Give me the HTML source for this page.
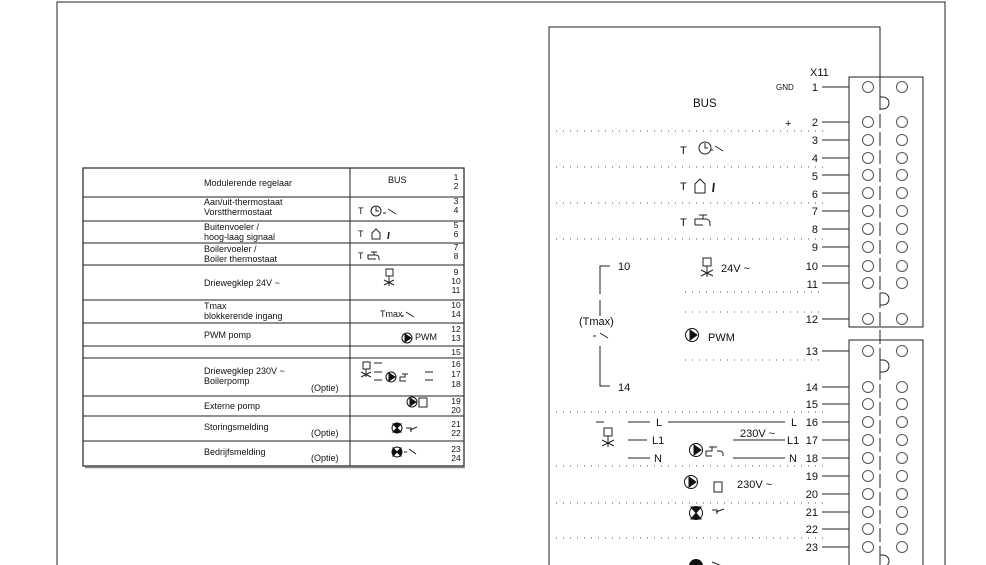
<!DOCTYPE html>
<html><head><meta charset="utf-8"><style>
html,body{margin:0;padding:0;background:#fff;}
svg{display:block;font-family:"Liberation Sans",Arial,sans-serif;}
text{fill:#111;}
</style></head><body>
<svg width="986" height="565" viewBox="0 0 986 565" xmlns="http://www.w3.org/2000/svg">
<g stroke="#222" fill="none" stroke-width="1">
<polyline points="57,565 57,2 945,2 945,565"/>
<polyline points="549,565 549,27 880,27 880,96"/>
<rect x="83" y="168" width="381" height="298" stroke-width="1.2"/>
<line x1="85" y1="467.5" x2="465" y2="467.5" stroke="#888" stroke-width="1.5"/>
<line x1="350" y1="168" x2="350" y2="466"/>
<line x1="83" y1="197" x2="464" y2="197"/>
<line x1="83" y1="221" x2="464" y2="221"/>
<line x1="83" y1="243" x2="464" y2="243"/>
<line x1="83" y1="265" x2="464" y2="265"/>
<line x1="83" y1="300" x2="464" y2="300"/>
<line x1="83" y1="323" x2="464" y2="323"/>
<line x1="83" y1="346" x2="464" y2="346"/>
<line x1="83" y1="358" x2="464" y2="358"/>
<line x1="83" y1="396" x2="464" y2="396"/>
<line x1="83" y1="416" x2="464" y2="416"/>
<line x1="83" y1="441" x2="464" y2="441"/>
<rect x="849" y="77" width="74" height="250"/>
<rect x="849" y="340" width="74" height="230"/>
<line x1="880" y1="96" x2="880" y2="565" stroke-dasharray="14,4"/>
</g>
<g font-size="9">
<text x="204" y="186">Modulerende regelaar</text>
<text x="204" y="205">Aan/uit-thermostaat</text><text x="204" y="215">Vorstthermostaat</text>
<text x="204" y="230">Buitenvoeler /</text><text x="204" y="240">hoog-laag signaal</text>
<text x="204" y="252">Boilervoeler /</text><text x="204" y="262">Boiler thermostaat</text>
<text x="204" y="286">Driewegklep 24V ~</text>
<text x="204" y="309">Tmax</text><text x="204" y="319">blokkerende ingang</text>
<text x="204" y="338">PWM pomp</text>
<text x="204" y="374">Driewegklep 230V ~</text><text x="204" y="384">Boilerpomp</text>
<text x="311" y="391">(Optie)</text>
<text x="204" y="409">Externe pomp</text>
<text x="204" y="430">Storingsmelding</text><text x="311" y="436">(Optie)</text>
<text x="204" y="455">Bedrijfsmelding</text><text x="311" y="461">(Optie)</text>
<text x="388" y="183">BUS</text>
<text x="358" y="214">T</text><text x="358" y="237">T</text><text x="358" y="259">T</text>
<text x="380" y="317">Tmax</text>
<text x="415" y="340">PWM</text>
</g>
<g font-size="8.5" text-anchor="middle">
<text x="456" y="180">1</text><text x="456" y="189">2</text>
<text x="456" y="204">3</text><text x="456" y="213">4</text>
<text x="456" y="228">5</text><text x="456" y="237">6</text>
<text x="456" y="250">7</text><text x="456" y="259">8</text>
<text x="456" y="275">9</text><text x="456" y="284">10</text><text x="456" y="293">11</text>
<text x="456" y="308">10</text><text x="456" y="317">14</text>
<text x="456" y="332">12</text><text x="456" y="341">13</text>
<text x="456" y="355">15</text>
<text x="456" y="367">16</text><text x="456" y="377">17</text><text x="456" y="387">18</text>
<text x="456" y="404">19</text><text x="456" y="413">20</text>
<text x="456" y="427">21</text><text x="456" y="436">22</text>
<text x="456" y="452">23</text><text x="456" y="461">24</text>
</g>
<g stroke="#222" fill="none" stroke-width="1">
<circle cx="376" cy="211" r="5"/><path d="M376 207v4h3M383 213h3M388 209l8 5"/>
<path d="M372 239v-6l4-4 4 4v6z"/><line x1="389" y1="232" x2="388" y2="239" stroke-width="1.5"/>
<path d="M368 259v-4h6v-3M371 252h6M374 255h2a3 3 0 0 1 3 3v2M368 259h8"/>
<rect x="386" y="269" width="7" height="7"/><path d="M389 276v10M384 280l10 5M384 285l10-5"/>
<path d="M401 316h3M406 312l8 5"/>
<rect x="363" y="362" width="7" height="7"/><path d="M366 369v8M361 372l10 5M361 377l10-5"/>
<path d="M374 363h8M374 372h8M374 380h8M425 372h8M425 380h8"/>
<path d="M406 381h-6v-4h5v-3M402 374h6"/>
<path d="M419 398h8v9h-8z"/>
<path d="M406 428h5v4M410 430l7-3M404 452h3M409 449l7 5"/>
</g>
<g fill="#111" stroke="#111">
<circle cx="407" cy="338" r="5" fill="none"/><path d="M405 334l6 4-6 4z"/>
<circle cx="391" cy="377" r="5" fill="none"/><path d="M389 373l6 4-6 4z"/>
<circle cx="412" cy="402" r="5" fill="none"/><path d="M410 398l6 4-6 4z"/>
<circle cx="397" cy="428" r="5" fill="none"/><path d="M393 424h8l-4 4z M393 432h8l-4-4z"/>
<circle cx="397" cy="452" r="5" fill="none"/><path d="M393 448v8l4-4z M401 448v8l-4-4z"/>
</g>
<g font-size="11" text-anchor="end">
<text x="818" y="91">1</text><text x="818" y="126">2</text><text x="818" y="144">3</text><text x="818" y="162">4</text>
<text x="818" y="180">5</text><text x="818" y="198">6</text><text x="818" y="215">7</text><text x="818" y="233">8</text>
<text x="818" y="251">9</text><text x="818" y="270">10</text><text x="818" y="288">11</text><text x="818" y="323">12</text>
<text x="818" y="355">13</text><text x="818" y="391">14</text><text x="818" y="408">15</text><text x="818" y="426">16</text>
<text x="818" y="444">17</text><text x="818" y="462">18</text><text x="818" y="480">19</text><text x="818" y="498">20</text>
<text x="818" y="516">21</text><text x="818" y="533">22</text><text x="818" y="551">23</text>
</g>
<g font-size="11">
<text x="810" y="76">X11</text>
<text x="776" y="90" font-size="8">GND</text>
<text x="785" y="127">+</text>
<text x="693" y="107" font-size="11.5">BUS</text>
<text x="680" y="154">T</text><text x="680" y="190">T</text><text x="680" y="226">T</text>
<text x="618" y="270">10</text><text x="618" y="391">14</text>
<text x="579" y="325">(Tmax)</text>
<text x="721" y="272">24V ~</text>
<text x="708" y="341">PWM</text>
<text x="656" y="426">L</text><text x="652" y="444">L1</text><text x="654" y="462">N</text>
<text x="740" y="437">230V ~</text>
<text x="791" y="426">L</text><text x="787" y="444">L1</text><text x="789" y="462">N</text>
<text x="737" y="488">230V ~</text>
</g>
<g stroke="#222" fill="none" stroke-width="1">
<path d="M822 87H849M822 122H849M822 140H849M822 158H849M822 175H849M822 193H849M822 211H849M822 229H849M822 247H849M822 266H849M822 283H849M822 319H849M822 351H849M822 387H849M822 404H849M822 422H849M822 440H849M822 458H849M822 476H849M822 494H849M822 512H849M822 529H849M822 547H849"/>
<g stroke="#555">
<circle cx="868" cy="87" r="5.5"/><circle cx="902" cy="87" r="5.5"/>
<circle cx="868" cy="122" r="5.5"/><circle cx="902" cy="122" r="5.5"/>
<circle cx="868" cy="140" r="5.5"/><circle cx="902" cy="140" r="5.5"/>
<circle cx="868" cy="158" r="5.5"/><circle cx="902" cy="158" r="5.5"/>
<circle cx="868" cy="175" r="5.5"/><circle cx="902" cy="175" r="5.5"/>
<circle cx="868" cy="193" r="5.5"/><circle cx="902" cy="193" r="5.5"/>
<circle cx="868" cy="211" r="5.5"/><circle cx="902" cy="211" r="5.5"/>
<circle cx="868" cy="229" r="5.5"/><circle cx="902" cy="229" r="5.5"/>
<circle cx="868" cy="247" r="5.5"/><circle cx="902" cy="247" r="5.5"/>
<circle cx="868" cy="266" r="5.5"/><circle cx="902" cy="266" r="5.5"/>
<circle cx="868" cy="283" r="5.5"/><circle cx="902" cy="283" r="5.5"/>
<circle cx="868" cy="319" r="5.5"/><circle cx="902" cy="319" r="5.5"/>
<circle cx="868" cy="351" r="5.5"/><circle cx="902" cy="351" r="5.5"/>
<circle cx="868" cy="387" r="5.5"/><circle cx="902" cy="387" r="5.5"/>
<circle cx="868" cy="404" r="5.5"/><circle cx="902" cy="404" r="5.5"/>
<circle cx="868" cy="422" r="5.5"/><circle cx="902" cy="422" r="5.5"/>
<circle cx="868" cy="440" r="5.5"/><circle cx="902" cy="440" r="5.5"/>
<circle cx="868" cy="458" r="5.5"/><circle cx="902" cy="458" r="5.5"/>
<circle cx="868" cy="476" r="5.5"/><circle cx="902" cy="476" r="5.5"/>
<circle cx="868" cy="494" r="5.5"/><circle cx="902" cy="494" r="5.5"/>
<circle cx="868" cy="512" r="5.5"/><circle cx="902" cy="512" r="5.5"/>
<circle cx="868" cy="529" r="5.5"/><circle cx="902" cy="529" r="5.5"/>
<circle cx="868" cy="547" r="5.5"/><circle cx="902" cy="547" r="5.5"/>
</g>
<path d="M880 97h3a6 6 0 0 1 0 12h-3zM880 293h3a6 6 0 0 1 0 12h-3zM880 360h3a6 6 0 0 1 0 12h-3zM880 555h3a6 6 0 0 1 0 12h-3z" fill="#fff"/>
<g stroke-dasharray="1,6" stroke="#555">
<path d="M556 131H825M556 167H825M556 203H825M556 239H825M685 292H825M685 312H825M685 360H825M556 412H825M556 466H825M556 503H825M556 538H825"/>
</g>
<path d="M610 266h-10v28M600 300v16M600 346v40h10"/>
<path d="M593 336h3M600 333l8 5"/>
<path d="M596 422h8"/>
<path d="M628 422H650M628 440H647M628 458H650M668 422H785M733 440H785M733 458H785"/>
<circle cx="705" cy="148" r="6"/><path d="M705 143v5h3M711 150h2M715 146l8 5"/>
<path d="M695 193v-9l5-5 5 5v9z"/><line x1="714" y1="183" x2="713" y2="192" stroke-width="1.8"/>
<path d="M695 225v-6h8v-4M699 215h8M703 219h3a4 4 0 0 1 4 4v3M695 225h8"/>
<rect x="703" y="258" width="8" height="8"/><path d="M707 266v11M701 270l12 6M701 276l12-6"/>
<rect x="604" y="428" width="8" height="8"/><path d="M608 436v11M602 440l12 6M602 446l12-6"/>
<path d="M712 456h-6v-5h6v-4M709 447h8M717 451h3a3 3 0 0 1 3 3v2"/>
<path d="M714 482h8v10h-8z"/>
<path d="M712 510h5v4M716 512l8-3"/>
<path d="M712 562l10 4"/>
</g>
<g fill="#111" stroke="#111">
<circle cx="692" cy="335" r="6.5" fill="none"/><path d="M690 330l7 5-7 5z"/>
<circle cx="696" cy="450" r="6.5" fill="none"/><path d="M694 445l7 5-7 5z"/>
<circle cx="691" cy="482" r="6.5" fill="none"/><path d="M689 477l7 5-7 5z"/>
<circle cx="696" cy="513" r="6.5" fill="none"/><path d="M691 507h10l-5 6z M691 519h10l-5-6z"/>
<circle cx="696" cy="566" r="6.5"/>
</g>
</svg>
</body></html>
